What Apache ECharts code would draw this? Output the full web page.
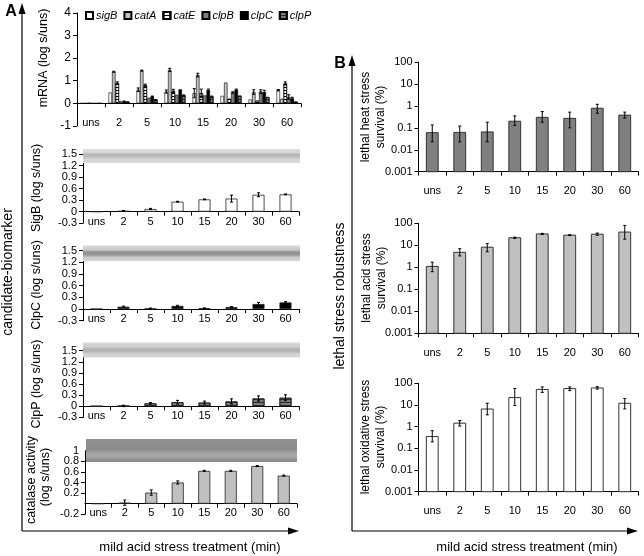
<!DOCTYPE html>
<html><head><meta charset="utf-8">
<script src="https://cdn.jsdelivr.net/npm/echarts@6/dist/echarts.min.js"></script>
<style>html,body{margin:0;padding:0;background:#fff}#c{width:644px;height:556px}</style>
</head><body><div id="c"></div>
<script>
const categories = ['uns','2','5','10','15','20','30','60'];
const mrnaNames = ['sigB','catA','catE','clpB','clpC','clpP'];
const mrnaSigB = [0, 0.48, 0.6, 0.52, 0.45, 0.33, 0.17, 0.58];
const mrnaCatA = [0, 1.4, 1.45, 1.48, 1.25, 0.92, 0.5, 0.2];
const mrnaCatE = [0, 0.9, 0.8, 0.55, 0.45, 0.2, 0.12, 0.88];
const mrnaClpB = [0, 0.1, 0.25, 0.38, 0.35, 0.48, 0.52, 0.28];
const mrnaClpC = [0, 0.08, 0.3, 0.62, 0.58, 0.6, 0.5, 0.22];
const mrnaClpP = [0, 0.05, 0.15, 0.35, 0.3, 0.34, 0.28, 0.08];
const mrnaSigBErr = [0, 0, 0.08, 0.07, 0.2, 0, 0, 0.03];
const mrnaCatAErr = [0, 0.02, 0.02, 0.07, 0.08, 0, 0.1, 0];
const mrnaCatEErr = [0, 0.05, 0.05, 0.07, 0.18, 0, 0, 0.07];
const mrnaClpBErr = [0, 0, 0, 0, 0, 0.03, 0.08, 0.1];
const mrnaClpCErr = [0, 0.02, 0.02, 0, 0.05, 0.03, 0.08, 0.05];
const mrnaClpPErr = [0, 0.02, 0.02, 0.02, 0.02, 0, 0, 0];

const sigBVals = [0, 0.02, 0.07, 0.26, 0.32, 0.34, 0.44, 0.45];
const sigBErr  = [0, 0.01, 0.015, 0.01, 0.01, 0.09, 0.05, 0.01];
const clpCVals = [0, 0.06, 0.01, 0.08, 0.02, 0.05, 0.13, 0.17];
const clpCErr  = [0, 0.015, 0.015, 0.015, 0.01, 0.015, 0.04, 0.02];
const clpPVals = [0, 0.01, 0.08, 0.11, 0.1, 0.13, 0.21, 0.23];
const clpPErr  = [0, 0.02, 0.02, 0.05, 0.04, 0.07, 0.07, 0.08];
const catVals  = [0, 0.02, 0.21, 0.4, 0.62, 0.62, 0.71, 0.53];
const catErr   = [0, 0.05, 0.05, 0.03, 0.01, 0.01, 0.01, 0.01];

const heatVals = [0.06, 0.062, 0.065, 0.2, 0.3, 0.27, 0.78, 0.38];
const heatLo   = [0.023, 0.023, 0.023, 0.13, 0.18, 0.1, 0.46, 0.28];
const heatHi   = [0.135, 0.12, 0.18, 0.35, 0.55, 0.52, 1.18, 0.52];
const acidVals = [1.1, 4.8, 8.2, 22, 33, 29, 32, 40];
const acidLo   = [0.63, 3.3, 5.1, 20.5, 31, 27.5, 28.5, 19];
const acidHi   = [1.7, 7, 12, 23.5, 35, 30.5, 36, 80];
const oxVals   = [0.35, 1.45, 6.5, 22, 52, 57, 61, 12];
const oxLo     = [0.2, 1.07, 3.5, 9.4, 38, 46, 54, 6.6];
const oxHi     = [0.65, 1.9, 12, 58, 68, 68, 70, 20];

const FONT = 'Liberation Sans, Arial, Helvetica, sans-serif';
const chart = echarts.init(document.getElementById('c'));

const stripe = (c) => ({symbol: 'rect', symbolSize: 1, dashArrayX: [1, 0], dashArrayY: [1, 1.6], color: c, rotation: 0});
const mrnaStyles = [
  {color: '#ffffff'},
  {color: '#c0c0c0'},
  {color: '#ffffff', decal: stripe('#000')},
  {color: '#808080'},
  {color: '#000000'},
  {color: '#7c7c7c', decal: stripe('#2a2a2a')}
];
const mrnaData = [mrnaSigB, mrnaCatA, mrnaCatE, mrnaClpB, mrnaClpC, mrnaClpP];
const mrnaErr = [mrnaSigBErr, mrnaCatAErr, mrnaCatEErr, mrnaClpBErr, mrnaClpCErr, mrnaClpPErr];

const leftGrids = [
  {left: 77, top: 13, width: 224, height: 112.9},
  {left: 83, top: 154, width: 216, height: 69.2},
  {left: 83, top: 250.7, width: 216, height: 70},
  {left: 83, top: 350.7, width: 216, height: 66.7},
  {left: 85, top: 450.7, width: 212, height: 63.6}
];
const rightGrids = [
  {left: 418.5, top: 62, width: 220, height: 109.7},
  {left: 418.5, top: 223.3, width: 220, height: 110},
  {left: 418.5, top: 383.3, width: 220, height: 108.4}
];
const grid = leftGrids.concat(rightGrids);

const xAxis = [];
const yAxis = [];
const axisLineStyle = {lineStyle: {color: '#000', width: 1}};
const tickStyle = {show: true, length: 4, lineStyle: {color: '#000', width: 1}};
const yRanges = [
  {min: -1, max: 4, interval: 1},
  {min: -0.3, max: 1.5, interval: 0.3},
  {min: -0.3, max: 1.5, interval: 0.3},
  {min: -0.3, max: 1.5, interval: 0.3},
  {min: -0.2, max: 1, interval: 0.2}
];
const fmt = (v) => String(Math.round(v * 10) / 10);
const labelMargins = [-8, -7, -7, -7, -7];
leftGrids.forEach((g, i) => {
  xAxis.push({type: 'category', gridIndex: i, data: categories, position: 'bottom',
    axisLine: Object.assign({onZero: true}, axisLineStyle), axisTick: tickStyle, axisLabel: {show: false}});
  xAxis.push({type: 'category', gridIndex: i, data: categories, position: 'bottom',
    axisLine: {show: false, onZero: false}, axisTick: {show: false},
    axisLabel: {show: true, margin: labelMargins[i], fontSize: 11, color: '#000', fontFamily: FONT}});
  yAxis.push(Object.assign({type: 'value', gridIndex: i, axisLine: Object.assign({show: true}, axisLineStyle),
    axisTick: tickStyle, splitLine: {show: false},
    axisLabel: {fontSize: i === 0 ? 12 : 11, color: '#000', fontFamily: FONT, margin: 6,
      showMinLabel: true, showMaxLabel: i === 4 ? false : true, formatter: fmt}}, yRanges[i]));
});
rightGrids.forEach((g, j) => {
  const i = 5 + j;
  xAxis.push({type: 'category', gridIndex: i, data: categories, position: 'bottom',
    axisLine: axisLineStyle, axisTick: tickStyle,
    axisLabel: {show: true, margin: 14, fontSize: 11, color: '#000', fontFamily: FONT}});
  yAxis.push({type: 'log', logBase: 10, min: 0.001, max: 100, gridIndex: i,
    axisLine: Object.assign({show: true}, axisLineStyle), axisTick: tickStyle, splitLine: {show: false},
    axisLabel: {fontSize: 11, color: '#000', fontFamily: FONT, margin: 6}});
});
// companion axis that only carries the top "1" label of the catalase panel
yAxis.push(Object.assign({type: 'value', gridIndex: 4, position: 'left', axisLine: {show: false},
  axisTick: {show: false}, splitLine: {show: false},
  axisLabel: {fontSize: 11, color: '#000', fontFamily: FONT, margin: 6, showMaxLabel: true,
    formatter: (v) => (Math.abs(v - 1) < 1e-6 ? '1' : '')}}, yRanges[4]));

function errRender(offsetFrac) {
  return function (params, api) {
    const i = api.value(0), v = api.value(1), e = api.value(2);
    if (!e) return null;
    const band = api.size([1, 0])[0];
    const hi = api.coord([i, v + e]), lo = api.coord([i, v - e]);
    const x = hi[0] + band * offsetFrac, cap = 1.5;
    const st = {stroke: '#000', lineWidth: 1};
    return {type: 'group', children: [
      {type: 'line', shape: {x1: x, y1: hi[1], x2: x, y2: lo[1]}, style: st},
      {type: 'line', shape: {x1: x - cap, y1: hi[1], x2: x + cap, y2: hi[1]}, style: st},
      {type: 'line', shape: {x1: x - cap, y1: lo[1], x2: x + cap, y2: lo[1]}, style: st}
    ]};
  };
}
function logBarRender(fill) {
  return function (params, api) {
    const i = api.value(0), v = api.value(1), lo = api.value(2), hi = api.value(3);
    const band = api.size([1, 0])[0];
    const w = band * 0.43;
    const top = api.coord([i, v]), base = api.coord([i, 0.001]);
    const pHi = api.coord([i, hi]), pLo = api.coord([i, lo]);
    const st = {stroke: '#000', lineWidth: 1};
    const x = top[0], cap = 1.5;
    return {type: 'group', children: [
      {type: 'rect', shape: {x: x - w / 2, y: top[1], width: w, height: base[1] - top[1]},
        style: {fill: fill, stroke: '#333', lineWidth: 1}},
      {type: 'line', shape: {x1: x, y1: pHi[1], x2: x, y2: pLo[1]}, style: st},
      {type: 'line', shape: {x1: x - cap, y1: pHi[1], x2: x + cap, y2: pHi[1]}, style: st},
      {type: 'line', shape: {x1: x - cap, y1: pLo[1], x2: x + cap, y2: pLo[1]}, style: st}
    ]};
  };
}

const series = [];
mrnaNames.forEach((name, k) => {
  series.push({type: 'bar', name: name, xAxisIndex: 0, yAxisIndex: 0, data: mrnaData[k],
    barGap: '0%', barCategoryGap: '25%',
    itemStyle: Object.assign({borderColor: '#000', borderWidth: 0.6}, mrnaStyles[k])});
});
mrnaNames.forEach((name, k) => {
  const off = -0.75 / 2 + 0.75 / 6 * (k + 0.5);
  series.push({type: 'custom', xAxisIndex: 0, yAxisIndex: 0, z: 5, renderItem: errRender(off),
    encode: {x: 0, y: 1}, data: categories.map((c, i) => [i, mrnaData[k][i], mrnaErr[k][i]])});
});
const singles = [
  {vals: sigBVals, err: sigBErr, style: {color: '#ffffff'}},
  {vals: clpCVals, err: clpCErr, style: {color: '#000000'}},
  {vals: clpPVals, err: clpPErr, style: {color: '#7c7c7c', decal: stripe('#2a2a2a')}},
  {vals: catVals, err: catErr, style: {color: '#c0c0c0'}}
];
singles.forEach((s, j) => {
  const gi = j + 1;
  series.push({type: 'bar', xAxisIndex: gi * 2, yAxisIndex: gi, data: s.vals, barWidth: 12,
    itemStyle: Object.assign({borderColor: '#222', borderWidth: 0.8}, s.style)});
  series.push({type: 'custom', xAxisIndex: gi * 2, yAxisIndex: gi, z: 5, renderItem: errRender(0),
    encode: {x: 0, y: 1}, data: categories.map((c, i) => [i, s.vals[i], s.err[i]])});
});
const logs = [
  {vals: heatVals, lo: heatLo, hi: heatHi, fill: '#808080'},
  {vals: acidVals, lo: acidLo, hi: acidHi, fill: '#c0c0c0'},
  {vals: oxVals, lo: oxLo, hi: oxHi, fill: '#ffffff'}
];
logs.forEach((s, j) => {
  series.push({type: 'custom', xAxisIndex: 10 + j, yAxisIndex: 5 + j, renderItem: logBarRender(s.fill),
    encode: {x: 0, y: 1}, data: categories.map((c, i) => [i, s.vals[i], s.lo[i], s.hi[i]])});
});

function blot(x, y, w, h, stops) {
  return {type: 'rect', shape: {x: x, y: y, width: w, height: h}, z: 10,
    style: {fill: new echarts.graphic.LinearGradient(0, 0, 0, 1, stops.map(s => ({offset: s[0], color: s[1]})))}};
}
function vtext(x, y, text, size, extra) {
  return {type: 'text', x: x, y: y, rotation: Math.PI / 2, z: 10,
    style: Object.assign({text: text, font: (size || 12) + 'px ' + FONT, fill: '#000', align: 'center', verticalAlign: 'middle'}, extra || {})};
}
function htext(x, y, text, size, weight) {
  return {type: 'text', x: x, y: y, z: 10,
    style: {text: text, font: (weight || '') + ' ' + size + 'px ' + FONT, fill: '#000', align: 'center', verticalAlign: 'middle'}};
}
function line(x1, y1, x2, y2) {
  return {type: 'line', z: 10, shape: {x1, y1, x2, y2}, style: {stroke: '#000', lineWidth: 1.2}};
}
function tri(pts) {
  return {type: 'polygon', z: 10, shape: {points: pts}, style: {fill: '#000'}};
}

const graphic = [
  blot(83, 149, 217, 14, [[0, '#dddddd'], [0.25, '#d5d5d5'], [0.38, '#b6b6b6'], [0.55, '#bebebe'], [0.72, '#d4d4d4'], [1, '#dcdcdc']]),
  blot(83, 245.5, 217, 15.5, [[0, '#d8d8d8'], [0.28, '#cacaca'], [0.42, '#929292'], [0.6, '#969696'], [0.76, '#c8c8c8'], [1, '#d6d6d6']]),
  blot(83, 342.5, 217, 15, [[0, '#d8d8d8'], [0.3, '#cdcdcd'], [0.45, '#b0b0b0'], [0.6, '#b8b8b8'], [0.75, '#d0d0d0'], [1, '#d8d8d8']]),
  blot(86, 439, 211, 23, [[0, '#939393'], [0.45, '#8a8a8a'], [0.6, '#a3a3a3'], [0.75, '#a9a9a9'], [0.9, '#8f8f8f'], [1, '#8a8a8a']]),
  line(22, 531, 22, 12), tri([[22, 3], [18.5, 14], [25.5, 14]]),
  line(22, 531, 290, 531), tri([[299, 531], [288, 527.5], [288, 534.5]]),
  line(352, 531, 352, 64), tri([[352, 55], [348.5, 66], [355.5, 66]]),
  line(352, 531, 628, 531), tri([[638, 531], [627, 527.5], [627, 534.5]]),
  htext(11, 12, 'A', 16, 'bold'),
  htext(340, 64, 'B', 16, 'bold'),
  vtext(8, 272, 'candidate-biomarker', 14),
  vtext(340, 296, 'lethal stress robustness', 14),
  htext(190, 547, 'mild acid stress treatment (min)', 13),
  htext(527, 547, 'mild acid stress treatment (min)', 13),
  vtext(44, 58, 'mRNA (log s/uns)', 12.5),
  vtext(37, 188, 'SigB (log s/uns)', 12.5),
  vtext(37, 285, 'ClpC (log s/uns)', 12.5),
  vtext(37, 384, 'ClpP (log s/uns)', 12.5),
  vtext(32, 480, 'catalase activity', 12.5),
  vtext(46, 477, '(log s/uns)', 12.5),
  vtext(366, 117, 'lethal heat stress', 12),
  vtext(381, 117, 'survival (%)', 12),
  vtext(367, 278, 'lethal acid stress', 12),
  vtext(382, 278, 'survival (%)', 12),
  vtext(366, 437, 'lethal oxidative stress', 12),
  vtext(381, 437, 'survival (%)', 12)
];

chart.setOption({
  animation: false,
  textStyle: {fontFamily: FONT},
  legend: {data: mrnaNames, left: 80, top: 5, icon: 'rect', itemWidth: 7, itemHeight: 7, itemGap: 6,
    textStyle: {fontSize: 11, fontStyle: 'italic', color: '#000', fontFamily: FONT, padding: [0, 0, 0, -2]}},
  grid: grid,
  xAxis: xAxis,
  yAxis: yAxis,
  series: series,
  graphic: graphic
});
</script></body></html>
